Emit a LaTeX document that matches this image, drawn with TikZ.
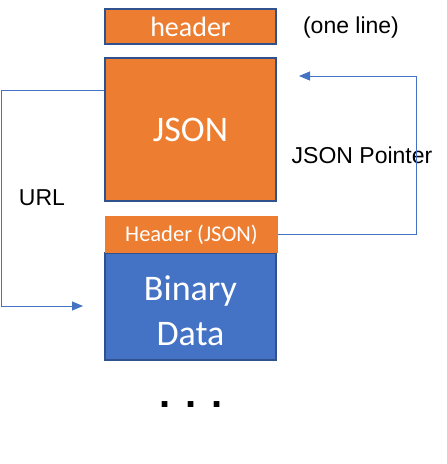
\documentclass[tikz,border=0pt]{standalone}
\usepackage{fontspec}
\setmainfont{Carlito}
\newfontfamily\arialfont{Liberation Sans}
\usetikzlibrary{arrows.meta}
\definecolor{orng}{HTML}{ED7D31}
\definecolor{blu}{HTML}{4472C4}
\definecolor{dblu}{HTML}{2F528F}
\tikzset{
  box/.style={draw=dblu, line width=1.5pt, inner sep=0pt, text=white, align=center},
  obox/.style={box, fill=orng},
  bbox/.style={box, fill=blu},
  lbl/.style={font=\arialfont\fontsize{23}{27}\selectfont, text=black, inner sep=0pt},
  conn/.style={draw=blu, line width=0.9pt},
  arr/.style={conn, -{Triangle[length=11pt,width=9pt]}}
}
\begin{document}
\begin{tikzpicture}[x=1pt,y=-1pt]
\useasboundingbox (0,0) rectangle (447,464);
\node[obox, minimum width=171pt, minimum height=35pt, font=\fontsize{28}{30}\selectfont] (hdr) at (190.5,26.5) {header};
\node[obox, minimum width=171pt, minimum height=143pt, font=\fontsize{36}{40}\selectfont] (json) at (190.5,129.5) {JSON};
\node[bbox, minimum width=171pt, minimum height=107pt, font=\fontsize{36}{45}\selectfont] (bin) at (190.5,306.5) {\rule{0pt}{34pt}Binary\\Data};
\node[fill=orng, draw=none, inner sep=0pt, minimum width=173pt, minimum height=37pt, text=white, font=\fontsize{22.5}{25}\selectfont] (hj) at (191.5,234.5) {Header (JSON)};
\node[lbl] (one) at (351,28) {(one line)};
\node[lbl] (ptr) at (362,155) {JSON Pointer};
\node[lbl] (url) at (42,198) {URL};
\node[font=\arialfont\bfseries\fontsize{40}{40}\selectfont, inner sep=0pt] (dots) at (191,405) {. . .};
\coordinate (ua) at (1,90);
\coordinate (ub) at (83,306);
\coordinate (pa) at (416,76);
\coordinate (pb) at (299,76);
\draw[arr] (json.west |- ua) -- (ua) |- (ub);
\draw[arr] (hj.east) -| (pa) -- (pb);
\end{tikzpicture}
\end{document}
